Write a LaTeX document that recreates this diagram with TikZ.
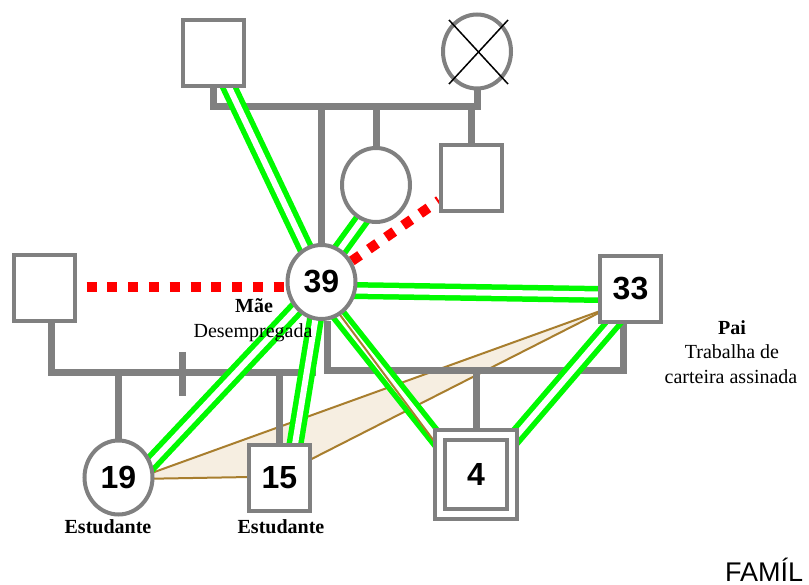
\documentclass[tikz,border=0pt]{standalone}
\usepackage{fontspec}
\setmainfont{Liberation Serif}
\newfontfamily\numfont{Liberation Sans}
\usetikzlibrary{shapes.geometric,calc}

\definecolor{kin}{RGB}{128,128,128}
\definecolor{bond}{RGB}{0,250,0}
\definecolor{conflict}{RGB}{255,0,0}
\definecolor{tie}{RGB}{168,126,46}
\definecolor{tiefill}{RGB}{246,238,225}

\begin{document}
\begin{tikzpicture}[x=1pt,y=-1pt,
  person/.style={draw=kin, line width=4pt, fill=white, inner sep=0pt,
    font=\numfont\bfseries\fontsize{32}{32}\selectfont},
  male/.style={person, rectangle, minimum width=61pt, minimum height=66pt},
  female/.style={person, ellipse, minimum width=68pt, minimum height=74pt},
  kinline/.style={draw=kin, line width=7pt},
  closebond/.style={draw=bond, line width=5.5pt, double=white, double distance=6pt},
  hostile/.style={draw=conflict, line width=10pt, dash pattern=on 10pt off 10.8pt},
  tieline/.style={draw=tie, line width=2pt},
  lbl/.style={anchor=base, inner sep=0pt, font=\fontsize{20}{24}\selectfont},
  lblb/.style={lbl, font=\bfseries\fontsize{20}{24}\selectfont},
]
\useasboundingbox (0,0) rectangle (809,585);

% people (placed first so that their names can be used; redrawn on top below)
\path
  (213,53.5)   node[male, draw=none, fill=none]   (gf) {}
  (477,51.5)   node[female, draw=none, fill=none] (gm) {}
  (376,185)    node[female, draw=none, fill=none] (a)  {}
  (471.5,178)  node[male, draw=none, fill=none]   (u)  {}
  (44.5,288)   node[male, draw=none, fill=none]   (l)  {}
  (321.5,282)  node[female, draw=none, fill=none] (m)  {}
  (630.5,289)  node[male, draw=none, fill=none]   (f)  {}
  (118.5,477.5) node[female, draw=none, fill=none] (c19) {}
  (279.5,478)  node[male, draw=none, fill=none]   (c15) {}
  (476,474.5)  node[male, draw=none, fill=none, minimum width=72pt, minimum height=79pt] (c4) {};

% shared tie between father and the two older children
\coordinate (tf)  at ($(f.center)+(-22,19)$);
\coordinate (t19) at ($(c19.center)+(16.5,1.5)$);
\coordinate (t15a) at ($(c15.center)+(-29,-1)$);
\coordinate (t15b) at ($(c15.center)+(10.5,-8)$);
\fill[tiefill] (tf) -- (t19) -- (t15a) -- (t15b) -- cycle;
\draw[tieline] (tf) -- (t19);
\draw[tieline] (t19) -- (t15a);
\draw[tieline] (tf) -- (t15b);

% kinship lines
\coordinate (topbar) at (0,106.5);
\coordinate (lbar) at (0,373);
\coordinate (rbar) at (0,371);
\draw[kinline] (gf.south) -- (gf.south |- topbar) -- (gm.south |- topbar) -- (gm.south);
\draw[kinline] (m.north) -- (m.north |- topbar);
\draw[kinline] (a.north) -- (a.north |- topbar);
\draw[kinline] (u.north) -- (u.north |- topbar);
\coordinate (lm1) at ($(l.south)+(7,0)$);
\coordinate (lm2) at ($(m.south)+(-9,0)$);
\draw[kinline] (lm1) -- (lm1 |- lbar) -- (lm2 |- lbar) -- (lm2);
\coordinate (rm1) at ($(m.south)+(6,0)$);
\coordinate (rm2) at ($(f.south)+(-7,0)$);
\draw[kinline] (rm1) -- (rm1 |- rbar) -- (rm2 |- rbar) -- (rm2);
\draw[kinline] (c19.north) -- (c19.north |- lbar);
\draw[kinline] (c15.north) -- (c15.north |- lbar);
\draw[kinline] (c4.north) -- (c4.north |- rbar);
% separation mark
\draw[kinline] (182,352) -- (182,396);

% close relationships
\draw[closebond] (gf.center) -- (m.center);
\draw[closebond] ($(a.center)+(11,0)$) -- ($(m.center)+(-5,0)$);
\draw[closebond] ($(m.center)+(0,8)$) -- ($(f.center)+(0,6)$);
\draw[closebond] ($(f.center)+(12,0)$) -- ($(c4.center)+(7,0)$);
\draw[closebond] ($(m.center)+(-9,0)$) -- ($(c4.center)+(-11,0)$);
\draw[closebond] (m.center) -- ($(c19.center)+(19,0)$);
\draw[closebond] (m.center) -- ($(c15.center)+(10,0)$);
\draw[tieline] ($(m.center)+(-6,0)$) -- ($(c4.center)+(-17,0)$);

% conflicts
\draw[hostile] ($(l.east)+(9.5,-1)$) -- ($(m.west)+(0,5)$);
\draw[hostile] (m) -- (u);

% people
\node[male]   at (gf) {};
\node[female] at (gm) {};
\node[female] at (a)  {};
\node[male]   at (u)  {};
\node[male]   at (l)  {};
\node[female] at (m)  {39};
\node[male]   at (f)  {33};
\node[female] at (c19) {19};
\node[male]   at (c15) {15};
\node[male, minimum width=72pt, minimum height=79pt, double=white, double distance=6pt] at (c4) {4};
\draw[black, line width=1.5pt] ($(gm.center)+(-28,-31.5)$) -- ($(gm.center)+(31,32.5)$);
\draw[black, line width=1.5pt] ($(gm.center)+(31,-31.5)$) -- ($(gm.center)+(-28,32.5)$);

% labels
\node[lblb] (mlab1) at (254,313) {Mãe};
\node[lbl]  (mlab2) at (253,338) {Desempregada};
\node[lblb] (plab1) at (732,335) {Pai};
\node[lbl]  (plab2) at (732,359) {Trabalha de};
\node[lbl]  (plab3) at (731,384) {carteira assinada};
\node[lblb] (s19) at (108,533) {Estudante};
\node[lblb] (s15) at (281,533) {Estudante};
\node[anchor=base west, inner sep=0pt, font=\numfont\fontsize{27}{28}\selectfont] (ttl) at (725,581) {FAMÍL};
\end{tikzpicture}
\end{document}
